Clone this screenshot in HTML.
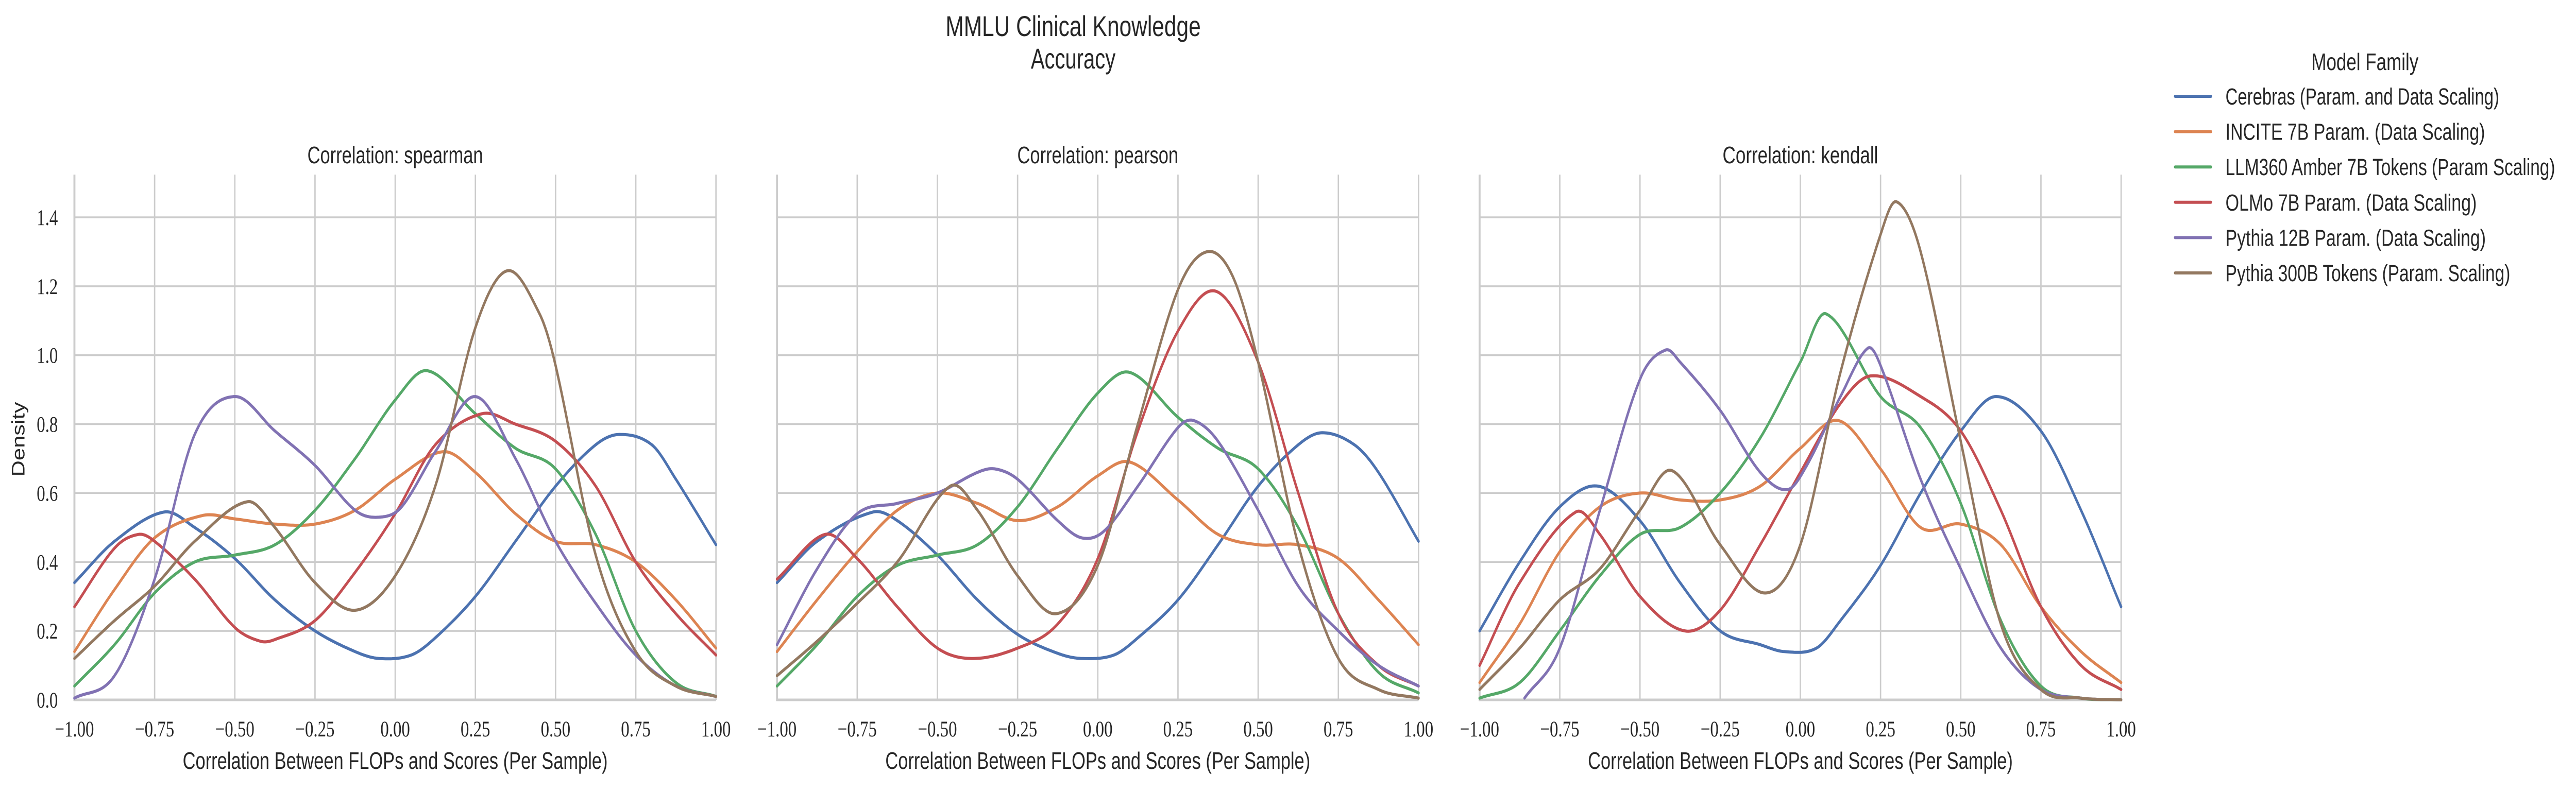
<!DOCTYPE html>
<html><head><meta charset="utf-8"><style>
html,body{margin:0;padding:0;background:#fff;width:100%;height:100%;overflow:hidden;}
svg{display:block;width:100vw;height:100vh;}
.sans{font-family:"Liberation Sans",sans-serif;fill:#262626;}
.serif{font-family:"Liberation Serif",serif;fill:#262626;}
</style></head><body>
<svg id="chart" viewBox="0 0 6541 1536" preserveAspectRatio="none" xmlns="http://www.w3.org/2000/svg">
<rect width="6541" height="1536" fill="#fff"/>
<text class="sans" x="2725" y="70" font-size="56" text-anchor="middle" textLength="648" lengthAdjust="spacingAndGlyphs">MMLU Clinical Knowledge</text>
<text class="sans" x="2725" y="133" font-size="56" text-anchor="middle" textLength="215" lengthAdjust="spacingAndGlyphs">Accuracy</text>
<g id="panels"></g>
<g id="legend"></g>
</svg>
<script>
const ticksX = [-1, -0.75, -0.5, -0.25, 0, 0.25, 0.5, 0.75, 1];
const tickLabelsX = ["\u22121.00","\u22120.75","\u22120.50","\u22120.25","0.00","0.25","0.50","0.75","1.00"];
const ticksY = [0, 0.2, 0.4, 0.6, 0.8, 1.0, 1.2, 1.4];
const tickLabelsY = ["0.0","0.2","0.4","0.6","0.8","1.0","1.2","1.4"];
const seriesNames = ["Cerebras (Param. and Data Scaling)","INCITE 7B Param. (Data Scaling)","LLM360 Amber 7B Tokens (Param Scaling)","OLMo 7B Param. (Data Scaling)","Pythia 12B Param. (Data Scaling)","Pythia 300B Tokens (Param. Scaling)"];
const panelTitles = ["Correlation: spearman","Correlation: pearson","Correlation: kendall"];

// spearman
const sp_cerebras = [[-1,0.34],[-0.875,0.46],[-0.72,0.545],[-0.625,0.5],[-0.5,0.41],[-0.375,0.29],[-0.25,0.2],[-0.125,0.14],[-0.05,0.12],[0.05,0.13],[0.125,0.18],[0.25,0.3],[0.375,0.46],[0.5,0.62],[0.625,0.74],[0.7,0.77],[0.8,0.74],[0.875,0.64],[1,0.45]];
const sp_incite = [[-1,0.14],[-0.875,0.32],[-0.75,0.47],[-0.6,0.535],[-0.5,0.525],[-0.375,0.51],[-0.25,0.51],[-0.125,0.55],[0,0.64],[0.15,0.72],[0.25,0.66],[0.375,0.54],[0.5,0.46],[0.625,0.45],[0.75,0.4],[0.875,0.29],[1,0.15]];
const sp_amber = [[-1,0.04],[-0.875,0.16],[-0.75,0.31],[-0.625,0.4],[-0.5,0.42],[-0.375,0.45],[-0.25,0.55],[-0.125,0.7],[0,0.87],[0.1,0.955],[0.25,0.83],[0.375,0.73],[0.5,0.67],[0.625,0.48],[0.75,0.2],[0.875,0.05],[1,0.01]];
const sp_olmo = [[-1,0.27],[-0.875,0.44],[-0.8,0.48],[-0.75,0.46],[-0.625,0.35],[-0.5,0.21],[-0.42,0.17],[-0.375,0.175],[-0.25,0.23],[-0.125,0.37],[0,0.54],[0.125,0.74],[0.27,0.83],[0.375,0.8],[0.5,0.75],[0.625,0.62],[0.75,0.4],[0.875,0.25],[1,0.13]];
const sp_p12b = [[-1,0.005],[-0.875,0.07],[-0.75,0.35],[-0.625,0.77],[-0.5,0.88],[-0.375,0.78],[-0.25,0.68],[-0.125,0.55],[-0.05,0.53],[0.02,0.56],[0.125,0.72],[0.25,0.88],[0.375,0.7],[0.5,0.46],[0.625,0.28],[0.75,0.13],[0.875,0.04],[1,0.01]];
const sp_p300b = [[-1,0.12],[-0.875,0.23],[-0.75,0.33],[-0.625,0.46],[-0.46,0.575],[-0.375,0.5],[-0.25,0.34],[-0.125,0.26],[0,0.36],[0.125,0.62],[0.25,1.08],[0.35,1.245],[0.45,1.12],[0.5,0.97],[0.625,0.42],[0.75,0.14],[0.875,0.04],[1,0.01]];
// pearson
const pe_cerebras = [[-1,0.34],[-0.875,0.46],[-0.7,0.545],[-0.625,0.52],[-0.5,0.42],[-0.375,0.29],[-0.25,0.19],[-0.125,0.135],[-0.05,0.12],[0.05,0.13],[0.125,0.18],[0.25,0.29],[0.375,0.45],[0.5,0.62],[0.625,0.74],[0.7,0.775],[0.8,0.74],[0.875,0.66],[1,0.46]];
const pe_incite = [[-1,0.14],[-0.875,0.29],[-0.75,0.43],[-0.625,0.55],[-0.5,0.6],[-0.375,0.57],[-0.25,0.52],[-0.125,0.56],[0,0.65],[0.1,0.69],[0.25,0.58],[0.375,0.48],[0.5,0.45],[0.625,0.45],[0.75,0.41],[0.875,0.29],[1,0.16]];
const pe_amber = [[-1,0.04],[-0.875,0.16],[-0.75,0.3],[-0.625,0.39],[-0.5,0.42],[-0.375,0.45],[-0.25,0.56],[-0.125,0.73],[0,0.89],[0.1,0.95],[0.25,0.82],[0.375,0.73],[0.5,0.67],[0.625,0.5],[0.75,0.25],[0.875,0.08],[1,0.02]];
const pe_olmo = [[-1,0.35],[-0.85,0.48],[-0.75,0.41],[-0.625,0.27],[-0.5,0.15],[-0.39,0.12],[-0.25,0.15],[-0.125,0.22],[0,0.41],[0.125,0.78],[0.25,1.07],[0.37,1.185],[0.5,0.98],[0.625,0.6],[0.75,0.25],[0.875,0.1],[1,0.04]];
const pe_p12b = [[-1,0.16],[-0.875,0.38],[-0.75,0.54],[-0.625,0.57],[-0.5,0.6],[-0.375,0.66],[-0.32,0.67],[-0.25,0.64],[-0.125,0.52],[-0.05,0.47],[0.02,0.49],[0.125,0.62],[0.25,0.79],[0.3,0.81],[0.375,0.75],[0.5,0.55],[0.625,0.33],[0.75,0.2],[0.875,0.1],[1,0.04]];
const pe_p300b = [[-1,0.07],[-0.875,0.17],[-0.75,0.28],[-0.625,0.4],[-0.46,0.62],[-0.375,0.55],[-0.25,0.36],[-0.13,0.25],[0,0.39],[0.125,0.8],[0.25,1.19],[0.34,1.3],[0.42,1.23],[0.5,0.98],[0.625,0.45],[0.75,0.12],[0.875,0.03],[1,0.005]];
// kendall
const ke_cerebras = [[-1,0.2],[-0.875,0.4],[-0.75,0.56],[-0.63,0.62],[-0.5,0.52],[-0.375,0.34],[-0.25,0.2],[-0.125,0.16],[-0.05,0.14],[0.05,0.15],[0.125,0.23],[0.25,0.39],[0.375,0.6],[0.5,0.78],[0.61,0.88],[0.75,0.78],[0.875,0.55],[1,0.27]];
const ke_incite = [[-1,0.05],[-0.875,0.22],[-0.75,0.43],[-0.625,0.56],[-0.5,0.6],[-0.375,0.58],[-0.25,0.58],[-0.125,0.62],[0,0.73],[0.12,0.81],[0.25,0.67],[0.375,0.5],[0.5,0.51],[0.625,0.45],[0.75,0.27],[0.875,0.14],[1,0.05]];
const ke_amber = [[-1,0.005],[-0.875,0.05],[-0.75,0.2],[-0.625,0.36],[-0.5,0.48],[-0.375,0.5],[-0.25,0.6],[-0.125,0.76],[0,0.98],[0.08,1.12],[0.25,0.88],[0.375,0.79],[0.5,0.57],[0.625,0.23],[0.75,0.04],[0.875,0.005],[1,0]];
const ke_olmo = [[-1,0.1],[-0.875,0.34],[-0.7,0.545],[-0.625,0.48],[-0.5,0.3],[-0.36,0.2],[-0.25,0.26],[-0.125,0.45],[0,0.66],[0.125,0.86],[0.22,0.94],[0.375,0.88],[0.5,0.78],[0.625,0.55],[0.75,0.27],[0.875,0.1],[1,0.03]];
const ke_p12b = [[-0.86,0.005],[-0.75,0.15],[-0.625,0.55],[-0.5,0.93],[-0.42,1.015],[-0.375,0.98],[-0.25,0.84],[-0.125,0.66],[-0.04,0.61],[0.02,0.68],[0.125,0.88],[0.21,1.02],[0.25,0.97],[0.375,0.64],[0.5,0.38],[0.625,0.15],[0.75,0.03],[0.875,0.005],[1,0]];
const ke_p300b = [[-1,0.03],[-0.875,0.15],[-0.75,0.29],[-0.625,0.38],[-0.5,0.55],[-0.4,0.665],[-0.25,0.45],[-0.11,0.31],[0,0.45],[0.125,0.95],[0.25,1.35],[0.3,1.445],[0.375,1.3],[0.5,0.75],[0.625,0.22],[0.75,0.03],[0.875,0.005],[1,0]];

const panelData = [
  [sp_cerebras, sp_incite, sp_amber, sp_olmo, sp_p12b, sp_p300b],
  [pe_cerebras, pe_incite, pe_amber, pe_olmo, pe_p12b, pe_p300b],
  [ke_cerebras, ke_incite, ke_amber, ke_olmo, ke_p12b, ke_p300b]
];
const colors = ["#4C72B0","#DD8452","#55A868","#C44E52","#8172B3","#937860"];
const panelLefts = [189, 1973, 3757];
const panelW = 1629, y0px = 1359, yTop = 339, pxPerUnit = 669.3;
const titleLens = [446, 409, 395];
const NS = "http://www.w3.org/2000/svg";
function mk(tag, attrs, parent){const e=document.createElementNS(NS,tag);for(const k in attrs)e.setAttribute(k,attrs[k]);parent.appendChild(e);return e;}
function sy(v){return y0px - v*pxPerUnit;}
function smooth(pts){
  const n=pts.length, m=[];
  for(let i=0;i<n;i++){
    if(i===0) m.push((pts[1][1]-pts[0][1])/(pts[1][0]-pts[0][0]));
    else if(i===n-1) m.push((pts[n-1][1]-pts[n-2][1])/(pts[n-1][0]-pts[n-2][0]));
    else m.push((pts[i+1][1]-pts[i-1][1])/(pts[i+1][0]-pts[i-1][0]));
  }
  const out=[];
  for(let i=0;i<n-1;i++){
    const [x0,y0]=pts[i],[x1,y1]=pts[i+1],h=x1-x0;
    for(let s=0;s<20;s++){
      const t=s/20,t2=t*t,t3=t2*t;
      const y=(2*t3-3*t2+1)*y0+(t3-2*t2+t)*h*m[i]+(-2*t3+3*t2)*y1+(t3-t2)*h*m[i+1];
      out.push([x0+t*h, Math.max(0,y)]);
    }
  }
  out.push(pts[n-1]);
  return out;
}
const panels=document.getElementById("panels");
panelLefts.forEach((L,p)=>{
  const sx=v=>L+(v+1)/2*panelW;
  const g=mk("g",{},panels);
  
  
  ticksY.forEach((v,i)=>{
    const l=mk("line",{x1:L,x2:L+panelW,y1:sy(v),y2:sy(v),stroke:"#cccccc","stroke-width":3.5},g);
    
    
    if(p===0){
      const t=mk("text",{x:147,y:sy(v)+15,"font-size":43,"text-anchor":"end",class:"serif"},g);
      t.textContent=tickLabelsY[i];
      
      
    }
  });
  ticksX.forEach((v,i)=>{
    const l=mk("line",{x1:sx(v),x2:sx(v),y1:yTop,y2:y0px,stroke:"#cccccc","stroke-width":3.5},g);
    
    
    const t=mk("text",{x:sx(v),y:1430,"font-size":43,"text-anchor":"middle",class:"serif"},g);
    t.textContent=tickLabelsX[i];
    
    
  });
  const sp1=mk("line",{x1:L,x2:L,y1:yTop,y2:y0px+2,stroke:"#cccccc","stroke-width":5},g);
  
  
  const sp2=mk("line",{x1:L-2,x2:L+panelW,y1:y0px,y2:y0px,stroke:"#cccccc","stroke-width":5},g);
  
  
  panelData[p].forEach((pts,s)=>{
    const sm=smooth(pts);
    const d=sm.map((q,i)=>(i?"L":"M")+sx(q[0]).toFixed(1)+" "+sy(q[1]).toFixed(1)).join(" ");
    const path=mk("path",{d:d,fill:"none",stroke:colors[s],"stroke-width":6,"stroke-linejoin":"round","stroke-linecap":"round"},g);
    
    
  });
  const tt=mk("text",{x:L+panelW/2,y:317,"font-size":46,"text-anchor":"middle",class:"sans",textLength:titleLens[p],lengthAdjust:"spacingAndGlyphs"},g);
  tt.textContent=panelTitles[p];
  
  
  const xl=mk("text",{x:L+panelW/2,y:1493,"font-size":46,"text-anchor":"middle",class:"sans",textLength:1079,lengthAdjust:"spacingAndGlyphs"},g);
  xl.textContent="Correlation Between FLOPs and Scores (Per Sample)";
  
  
});
const yl=mk("text",{x:0,y:0,"font-size":46,"text-anchor":"middle",class:"sans",transform:"translate(62,853) rotate(-90)",textLength:145,lengthAdjust:"spacingAndGlyphs"},panels);
yl.textContent="Density";



const lg=document.getElementById("legend");
const lt=mk("text",{x:6005,y:136,"font-size":46,"text-anchor":"middle",class:"sans",textLength:272,lengthAdjust:"spacingAndGlyphs"},lg);
lt.textContent="Model Family";


const legendLens=[695,659,837,638,661,723];
seriesNames.forEach((n,i)=>{
  const y=187+i*68.6;
  const ln=mk("line",{x1:5523,x2:5614,y1:y,y2:y,stroke:colors[i],"stroke-width":6,"stroke-linecap":"round"},lg);
  
  
  const t=mk("text",{x:5651,y:y+16,"font-size":45,class:"sans",textLength:legendLens[i],lengthAdjust:"spacingAndGlyphs"},lg);
  t.textContent=n;
  
  
});
</script>
</body></html>
